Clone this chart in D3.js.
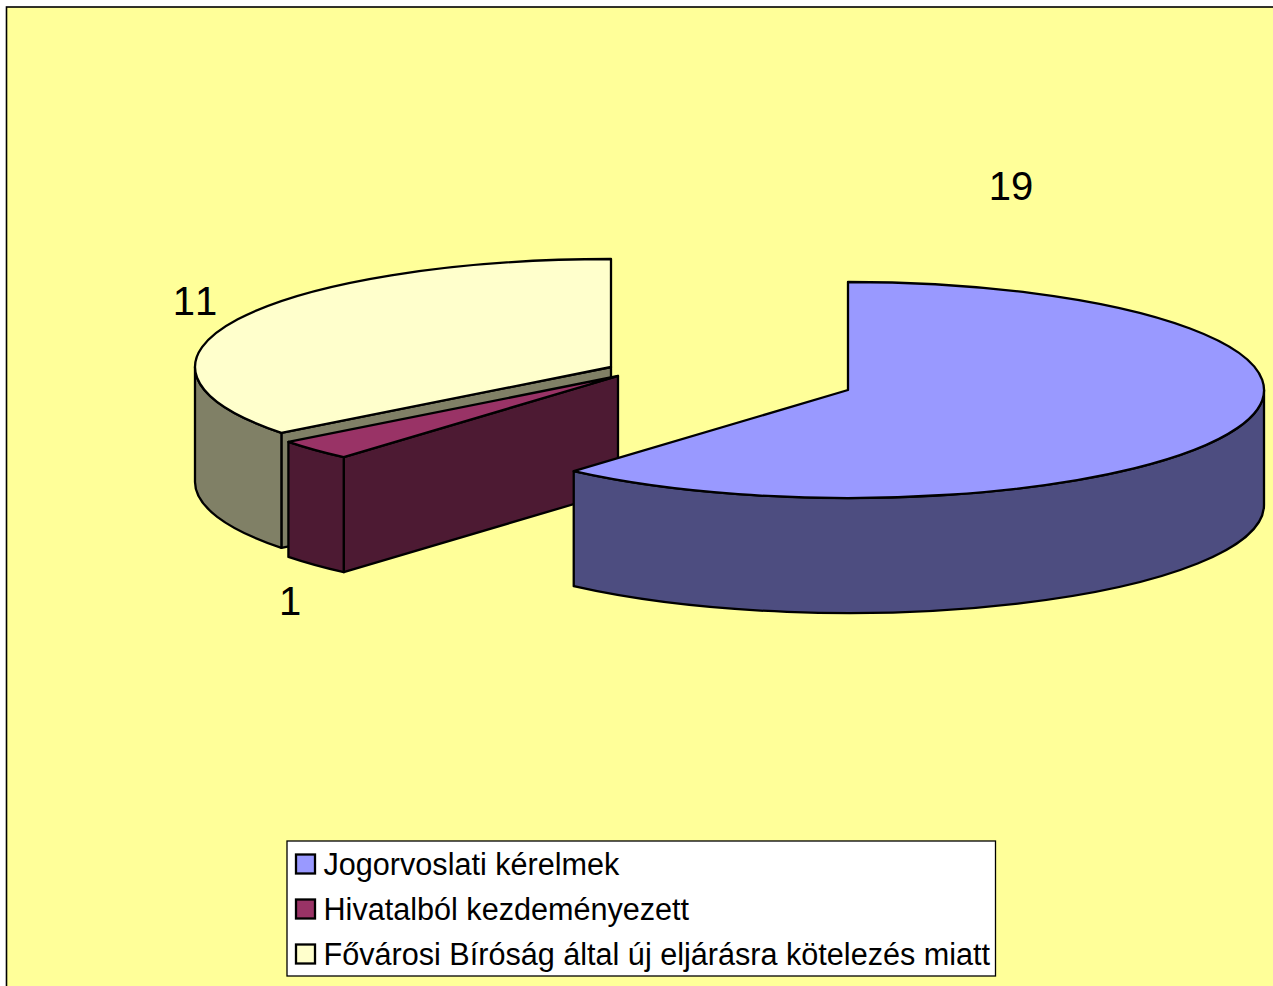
<!DOCTYPE html>
<html><head><meta charset="utf-8">
<script src="https://cdn.jsdelivr.net/npm/d3@7"></script>
<style>html,body{margin:0;padding:0;background:#fff;overflow:hidden}svg{display:block}text{font-family:"Liberation Sans",Arial,sans-serif;fill:#000;font-kerning:none}</style>
</head><body><svg id="c" width="1273" height="986"></svg>
<script>
const categories = ["Jogorvoslati kérelmek","Hivatalból kezdeményezett","Fővárosi Bíróság által új eljárásra kötelezés miatt"];
const values = [19,1,11];
const topColors = ["#9999FF","#993366","#FFFFCC"];
const wallColors = ["#4D4D80","#4D1A33","#808066"];
const centers = [[848,390],[618,376],[611,367]];
const labelPos = [[1011,185],[290,600],[195,300]];
const drawOrder = [2,1,0];
const boundaryNudge = [0.0105,0.0025,0]; // drawing-angle offset at each slice's end boundary

const RX=416, RY=108, DEPTH=115;
const svg=d3.select("#c");
svg.append("rect").attr("x",6.5).attr("y",7).attr("width",1275).attr("height",1000)
  .attr("fill","#FFFF99").attr("stroke","#000").attr("stroke-width",1.6);

const arcs=d3.pie().sort(null).value(d=>d)(values);
const pt=(c,a,dz=0)=>[c[0]+RX*Math.sin(a),c[1]-RY*Math.cos(a)+dz];
const S=a=>a.map(v=>v.toFixed(2)).join(" ");
const P=Math.PI;

const stroke=s=>s.attr("stroke","#000").attr("stroke-width",2.3).attr("stroke-linejoin","round");
drawOrder.forEach(i=>{
  const c=centers[i];
  const a0=arcs[i].startAngle+(i>0?boundaryNudge[i-1]:0),a1=arcs[i].endAngle+boundaryNudge[i];
  const g=svg.append("g");
  const w0=Math.max(a0,P/2),w1=Math.min(a1,3*P/2);
  const cutFace=(a)=>{const e=pt(c,a),e2=pt(c,a,DEPTH),c2=[c[0],c[1]+DEPTH];
    return `M${S(c)}L${S(e)}L${S(e2)}L${S(c2)}Z`;};
  if(a0>P && a0<3*P/2){ g.append("path").attr("d",cutFace(a0)).attr("fill",wallColors[i]).call(stroke); }
  if(w1>w0){
    const large=(w1-w0)>P?1:0;
    const d=`M${S(pt(c,w0))}A${RX} ${RY} 0 ${large} 1 ${S(pt(c,w1))}L${S(pt(c,w1,DEPTH))}A${RX} ${RY} 0 ${large} 0 ${S(pt(c,w0,DEPTH))}Z`;
    g.append("path").attr("d",d).attr("fill",wallColors[i]).call(stroke);
  }
  const large=(a1-a0)>P?1:0;
  g.append("path").attr("d",`M${S(c)}L${S(pt(c,a0))}A${RX} ${RY} 0 ${large} 1 ${S(pt(c,a1))}Z`)
    .attr("fill",topColors[i]).call(stroke);
});

svg.append("g").selectAll("text").data(values).join("text")
  .attr("x",(d,i)=>labelPos[i][0]).attr("y",(d,i)=>labelPos[i][1]+14.5)
  .attr("text-anchor","middle").attr("font-size",40).text(d=>d);

const legend=svg.append("g");
legend.append("rect").attr("x",287).attr("y",841).attr("width",708.5).attr("height",135)
  .attr("fill","#fff").attr("stroke","#000").attr("stroke-width",1.3);
const rowY=d3.scalePoint().domain(d3.range(categories.length)).range([864.5,954.5]);
const rows=legend.selectAll("g").data(categories).join("g");
rows.append("rect").attr("x",296).attr("y",(d,i)=>rowY(i)-10).attr("width",19).attr("height",19)
  .attr("fill",(d,i)=>topColors[i]).attr("stroke","#000").attr("stroke-width",2.3);
rows.append("text").attr("x",323.5).attr("y",(d,i)=>rowY(i)+10).attr("font-size",30.6).text(d=>d);
</script></body></html>
